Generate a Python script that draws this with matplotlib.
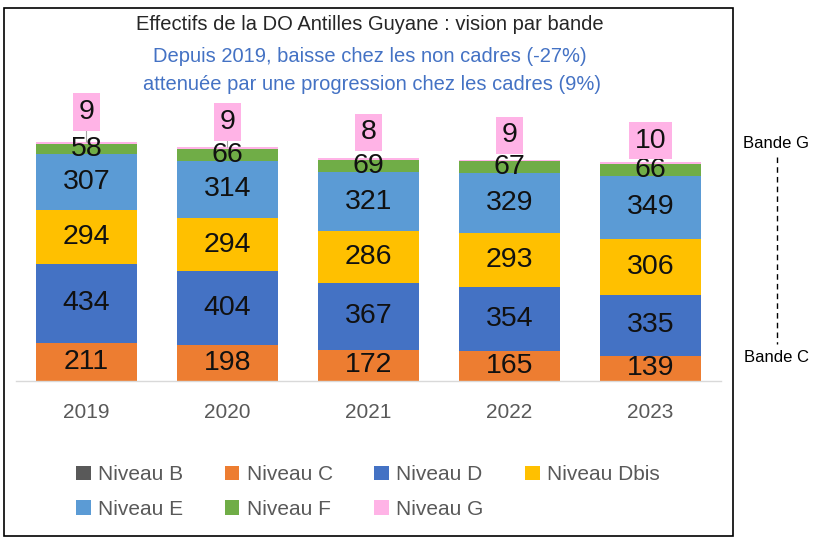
import numpy as np
import matplotlib
matplotlib.use("Agg")
import matplotlib.pyplot as plt
from matplotlib.patches import Rectangle
from matplotlib.lines import Line2D

plt.rcParams.update({
    "font.family": ["Liberation Sans", "DejaVu Sans"],
    "font.size": 14,
})

# data
years = ["2019", "2020", "2021", "2022", "2023"]
niveau_b = [0, 0, 0, 0, 0]
niveau_c = [211, 198, 172, 165, 139]
niveau_d = [434, 404, 367, 354, 335]
niveau_dbis = [294, 294, 286, 293, 306]
niveau_e = [307, 314, 321, 329, 349]
niveau_f = [58, 66, 69, 67, 66]
niveau_g = [9, 9, 8, 9, 10]

series = [
    ("Niveau B", niveau_b, "#595959"),
    ("Niveau C", niveau_c, "#ED7D31"),
    ("Niveau D", niveau_d, "#4472C4"),
    ("Niveau Dbis", niveau_dbis, "#FFC000"),
    ("Niveau E", niveau_e, "#5B9BD5"),
    ("Niveau F", niveau_f, "#70AD47"),
    ("Niveau G", niveau_g, "#FFB3E6"),
]

# vertical offset (points) of the pink G labels above the stack, and leader line flag
g_offsets = [21.6, 18, 18.7, 17.3, 15.1]
g_leader = [True, True, False, False, False]

W, H = 824, 543
fig = plt.figure(figsize=(W / 100, H / 100), dpi=100)

# plot area in pixel terms: baseline at y=381, x from 16 to 721
ax = fig.add_axes([16 / W, (H - 381) / H, 705 / W, 281 / H])
x = np.arange(len(years))
bottom = np.zeros(len(years))
handles = {}
for name, vals, col in series:
    vals = np.array(vals, dtype=float)
    bars = ax.bar(x, vals, 0.71, bottom=bottom, color=col, label=name, zorder=2)
    handles[name] = bars
    if name not in ("Niveau B", "Niveau G"):
        for xi, b, v in zip(x, bottom, vals):
            ax.text(xi, b + v / 2, f"{int(v)}", ha="center", va="center",
                    fontsize=20.5, color="#111111", zorder=4)
    bottom += vals

totals = bottom.copy()
for xi, tot, v, off, lead in zip(x, totals, niveau_g, g_offsets, g_leader):
    ax.annotate(f"{v}", xy=(xi, tot), xytext=(0, off), textcoords="offset points",
                ha="center", va="center", fontsize=20.5, color="#111111", zorder=5,
                bbox=dict(boxstyle="square,pad=0.2", fc="#FFB3E6", ec="none"),
                arrowprops=dict(arrowstyle="-", color="#A6A6A6", lw=0.8,
                                shrinkA=0, shrinkB=0) if lead else None,
                annotation_clip=False)

ax.set_xlim(-0.5, len(years) - 0.5)
ax.set_ylim(0, 1544)
ax.set_xticks(x)
ax.set_xticklabels(years, fontsize=15, color="#595959")
ax.tick_params(axis="x", length=0, pad=16)
ax.set_yticks([])
for s in ("top", "right", "left"):
    ax.spines[s].set_visible(False)
ax.spines["bottom"].set_color("#D9D9D9")
ax.spines["bottom"].set_linewidth(1)
ax.patch.set_alpha(0)

# titles
fig.text(370 / W, 1 - 25 / H, "Effectifs de la DO Antilles Guyane : vision par bande",
         ha="center", va="center", fontsize=14.5, color="#262626")
fig.text(370 / W, 1 - 56 / H, "Depuis 2019, baisse chez les non cadres (-27%)",
         ha="center", va="center", fontsize=14.5, color="#4472C4")
fig.text(372 / W, 1 - 84 / H, "attenuée par une progression chez les cadres (9%)",
         ha="center", va="center", fontsize=14.5, color="#4472C4")

# legend, row order B C D Dbis / E F G
order = ["Niveau B", "Niveau E", "Niveau C", "Niveau F", "Niveau D", "Niveau G", "Niveau Dbis"]
leg = fig.legend([handles[n] for n in order], order, ncol=4, loc="center",
                 bbox_to_anchor=(368 / W, 1 - 492 / H), frameon=False,
                 fontsize=15, handlelength=0.7, handleheight=0.7, handletextpad=0.35,
                 columnspacing=2.0, labelspacing=0.75)
for t in leg.get_texts():
    t.set_color("#595959")

# right-hand band annotation
fig.text(776 / W, 1 - 143 / H, "Bande G", ha="center", va="center", fontsize=12, color="black")
fig.text(776 / W, 1 - 358 / H, "Bande C", ha="center", va="center", fontsize=12, color="black")
fig.add_artist(Line2D([777 / W, 777 / W], [1 - 157 / H, 1 - 344 / H],
                      transform=fig.transFigure, color="black", lw=1, ls=(0, (4, 3))))

# frame around the chart
fig.add_artist(Rectangle((4 / W, 1 - 536 / H), 729 / W, 528 / H, transform=fig.transFigure,
                         fill=False, ec="black", lw=1.2))

fig.savefig("out.png", dpi=100)
